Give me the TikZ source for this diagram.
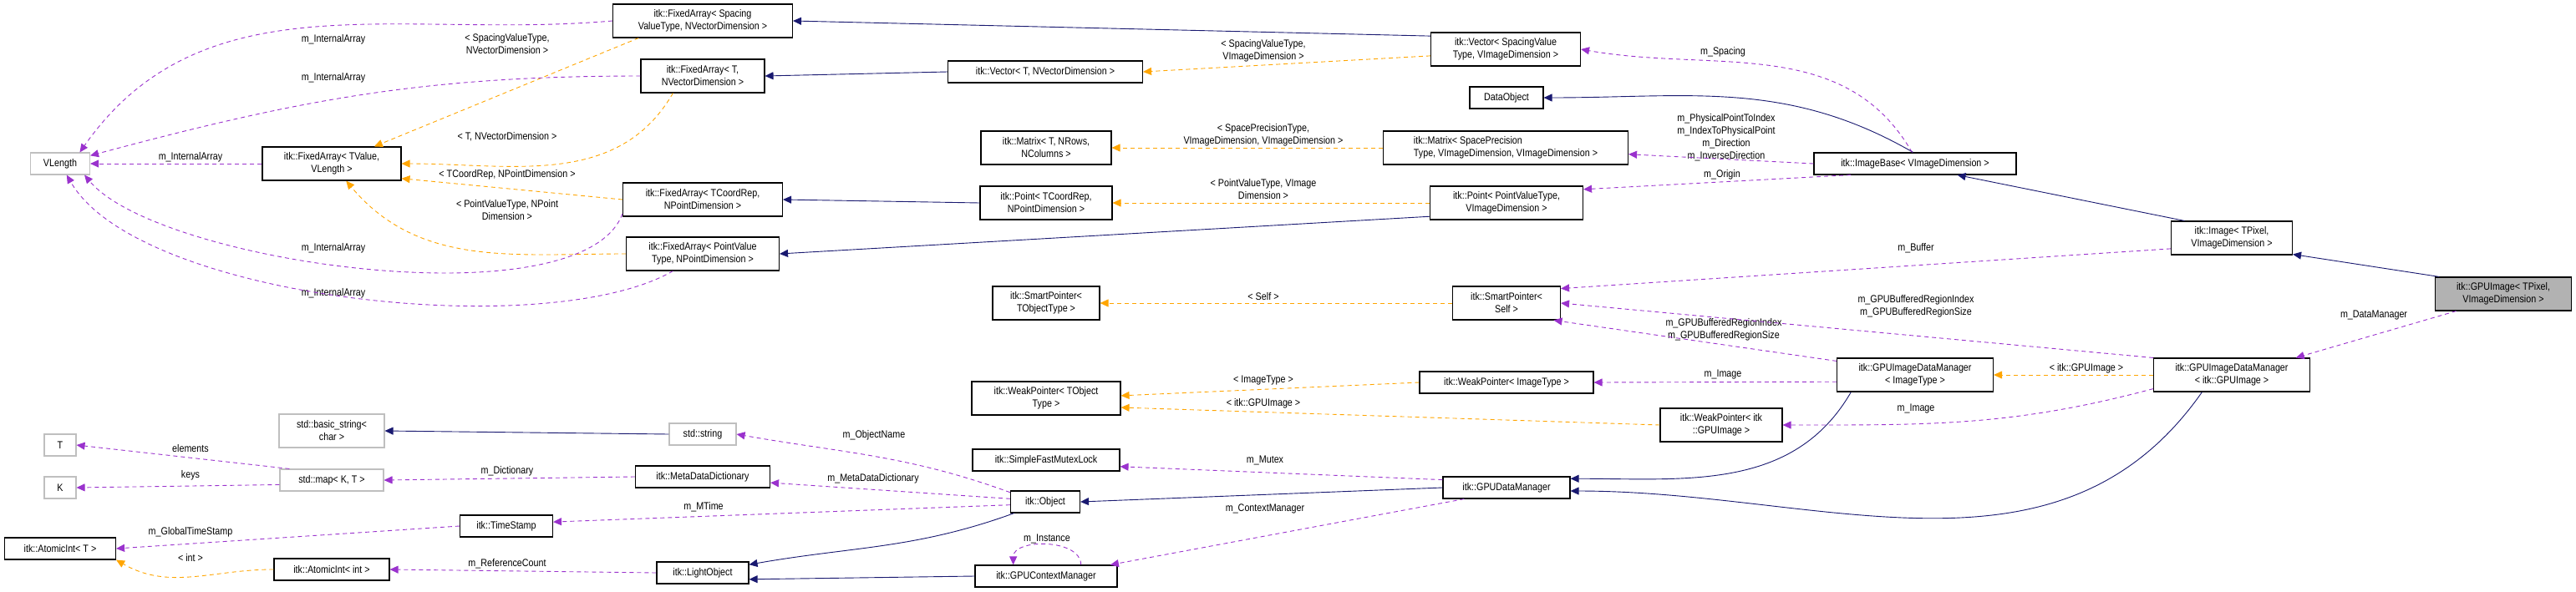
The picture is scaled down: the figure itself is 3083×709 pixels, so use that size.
\documentclass[tikz,border=0pt]{standalone}
\usepackage{fontspec}
\setmainfont[FakeStretch=0.86]{Liberation Sans}
\usetikzlibrary{arrows.meta}
\definecolor{inhcol}{HTML}{191970}
\definecolor{usecol}{HTML}{9A32CD}
\definecolor{tplcol}{HTML}{FFA500}
\begin{document}
\begin{tikzpicture}[x=1pt, y=-1pt, font=\fontsize{12.5}{15}\selectfont,
		cls/.style={rectangle, draw=black, line width=1.1pt, inner sep=1pt, align=center, minimum height=26},
		ext/.style={cls, draw=black!25},
		cur/.style={cls, fill=black!30},
		two/.style={minimum height=40},
		inh/.style={draw=inhcol, line width=0.9pt, -{Triangle[length=10pt, width=9pt]}},
		use/.style={draw=usecol, line width=0.9pt, dashed, dash pattern=on 5pt off 4pt, -{Triangle[length=10pt, width=9pt]}},
		tpl/.style={draw=tplcol, line width=0.9pt, dashed, dash pattern=on 5pt off 4pt, -{Triangle[length=10pt, width=9pt]}},
		lbl/.style={align=center, inner sep=0pt}]
		\useasboundingbox (0,0) rectangle (3083,709);
		\node[cur, two, minimum width=163] (1) at (2996,352) {itk::GPUImage\textless{} TPixel,\\ VImageDimension \textgreater{}};
		\node[cls, two, minimum width=145] (2) at (2671,285) {itk::Image\textless{} TPixel,\\ VImageDimension \textgreater{}};
		\node[cls, minimum width=242] (3) at (2292,196) {itk::ImageBase\textless{} VImageDimension \textgreater{}};
		\node[cls, minimum width=88] (4) at (1803,117) {DataObject};
		\node[cls, two, minimum width=179] (5) at (1802,59) {itk::Vector\textless{} SpacingValue\\Type, VImageDimension \textgreater{}};
		\node[cls, minimum width=233] (6) at (1251,86) {itk::Vector\textless{} T, NVectorDimension \textgreater{}};
		\node[cls, two, minimum width=215] (7) at (841,25) {itk::FixedArray\textless{} Spacing\\ValueType, NVectorDimension \textgreater{}};
		\node[cls, two, minimum width=148] (8) at (841,91) {itk::FixedArray\textless{} T,\\ NVectorDimension \textgreater{}};
		\node[cls, two, minimum width=166] (9) at (397,196) {itk::FixedArray\textless{} TValue,\\ VLength \textgreater{}};
		\node[ext, minimum width=71] (10) at (72,196) {VLength};
		\node[cls, two, minimum width=191] (11) at (841,239) {itk::FixedArray\textless{} TCoordRep,\\ NPointDimension \textgreater{}};
		\node[cls, two, minimum width=183] (12) at (841,304) {itk::FixedArray\textless{} PointValue\\Type, NPointDimension \textgreater{}};
		\node[cls, two, minimum width=293, align=left] (13) at (1802,177) {itk::Matrix\textless{} SpacePrecision\\Type, VImageDimension, VImageDimension \textgreater{}};
		\node[cls, two, minimum width=156] (14) at (1252,177) {itk::Matrix\textless{} T, NRows,\\ NColumns \textgreater{}};
		\node[cls, two, minimum width=183] (15) at (1803,243) {itk::Point\textless{} PointValueType,\\ VImageDimension \textgreater{}};
		\node[cls, two, minimum width=158] (16) at (1252,243) {itk::Point\textless{} TCoordRep,\\ NPointDimension \textgreater{}};
		\node[cls, two, minimum width=129] (17) at (1803,363) {itk::SmartPointer\textless{}\\ Self \textgreater{}};
		\node[cls, two, minimum width=128] (18) at (1252,363) {itk::SmartPointer\textless{}\\ TObjectType \textgreater{}};
		\node[cls, two, minimum width=187] (19) at (2671,449) {itk::GPUImageDataManager\\ \textless{} itk::GPUImage \textgreater{}};
		\node[cls, two, minimum width=187] (20) at (2292,449) {itk::GPUImageDataManager\\ \textless{} ImageType \textgreater{}};
		\node[cls, minimum width=208] (21) at (1803,458) {itk::WeakPointer\textless{} ImageType \textgreater{}};
		\node[cls, two, minimum width=178] (22) at (1252,477) {itk::WeakPointer\textless{} TObject\\Type \textgreater{}};
		\node[cls, two, minimum width=146] (23) at (2060,509) {itk::WeakPointer\textless{} itk\\::GPUImage \textgreater{}};
		\node[cls, minimum width=176] (24) at (1252,551) {itk::SimpleFastMutexLock};
		\node[cls, minimum width=152] (25) at (1803,584) {itk::GPUDataManager};
		\node[cls, minimum width=83] (26) at (1251,601) {itk::Object};
		\node[cls, minimum width=170] (27) at (1252,690) {itk::GPUContextManager};
		\node[cls, minimum width=110] (28) at (841,686) {itk::LightObject};
		\node[ext, minimum width=80] (29) at (841,520) {std::string};
		\node[ext, two, minimum width=126] (30) at (397,516) {std::basic\_string\textless{}\\ char \textgreater{}};
		\node[cls, minimum width=161] (31) at (841,571) {itk::MetaDataDictionary};
		\node[ext, minimum width=124] (32) at (397,575) {std::map\textless{} K, T \textgreater{}};
		\node[ext, minimum width=38] (33) at (72,533) {T};
		\node[ext, minimum width=38] (34) at (72,584) {K};
		\node[cls, minimum width=111] (35) at (606,630) {itk::TimeStamp};
		\node[cls, minimum width=133] (36) at (72,657) {itk::AtomicInt\textless{} T \textgreater{}};
		\node[cls, minimum width=138] (37) at (397,682) {itk::AtomicInt\textless{} int \textgreater{}};
		
		\node[lbl] (l1) at (399,47) {m\_InternalArray};
		\node[lbl] (l2) at (607,53) {\textless{} SpacingValueType,\\NVectorDimension \textgreater{}};
		\node[lbl] (l3) at (399,93) {m\_InternalArray};
		\node[lbl] (l4) at (607,164) {\textless{} T, NVectorDimension \textgreater{}};
		\node[lbl] (l5) at (228,188) {m\_InternalArray};
		\node[lbl] (l6) at (607,209) {\textless{} TCoordRep, NPointDimension \textgreater{}};
		\node[lbl] (l7) at (607,252) {\textless{} PointValueType, NPoint\\Dimension \textgreater{}};
		\node[lbl] (l8) at (399,297) {m\_InternalArray};
		\node[lbl] (l9) at (399,351) {m\_InternalArray};
		\node[lbl] (l10) at (228,537) {elements};
		\node[lbl] (l11) at (228,569) {keys};
		\node[lbl] (l12) at (607,564) {m\_Dictionary};
		\node[lbl] (l13) at (842,607) {m\_MTime};
		\node[lbl] (l14) at (228,637) {m\_GlobalTimeStamp};
		\node[lbl] (l15) at (228,668) {\textless{} int \textgreater{}};
		\node[lbl] (l16) at (607,675) {m\_ReferenceCount};
		\node[lbl] (l17) at (1512,61) {\textless{} SpacingValueType,\\VImageDimension \textgreater{}};
		\node[lbl] (l18) at (2062,62) {m\_Spacing};
		\node[lbl] (l19) at (1512,162) {\textless{} SpacePrecisionType,\\VImageDimension, VImageDimension \textgreater{}};
		\node[lbl] (l20) at (2066,165) {m\_PhysicalPointToIndex\\m\_IndexToPhysicalPoint\\m\_Direction\\m\_InverseDirection};
		\node[lbl] (l21) at (2061,209) {m\_Origin};
		\node[lbl] (l22) at (1512,227) {\textless{} PointValueType, VImage\\Dimension \textgreater{}};
		\node[lbl] (l23) at (2293,297) {m\_Buffer};
		\node[lbl] (l24) at (1512,355) {\textless{} Self \textgreater{}};
		\node[lbl] (l25) at (2293,367) {m\_GPUBufferedRegionIndex\\m\_GPUBufferedRegionSize};
		\node[lbl] (l26) at (2063,395) {m\_GPUBufferedRegionIndex\\m\_GPUBufferedRegionSize};
		\node[lbl] (l27) at (2841,377) {m\_DataManager};
		\node[lbl] (l28) at (2497,441) {\textless{} itk::GPUImage \textgreater{}};
		\node[lbl] (l29) at (2062,448) {m\_Image};
		\node[lbl] (l30) at (2293,489) {m\_Image};
		\node[lbl] (l31) at (1512,455) {\textless{} ImageType \textgreater{}};
		\node[lbl] (l32) at (1512,483) {\textless{} itk::GPUImage \textgreater{}};
		\node[lbl] (l33) at (1046,521) {m\_ObjectName};
		\node[lbl] (l34) at (1045,573) {m\_MetaDataDictionary};
		\node[lbl] (l35) at (1514,551) {m\_Mutex};
		\node[lbl] (l36) at (1514,609) {m\_ContextManager};
		\node[lbl] (l37) at (1253,645) {m\_Instance};
		
		\path (1.165) edge[inh] (2.-15);
		\path (2.160) edge[inh] (3.-15);
		\path (3.100) edge[inh, out=150, in=0] (4.east);
		\path (5.170) edge[inh] (7.east);
		\path (6.west) edge[inh] (8.east);
		\path (16.west) edge[inh] (11.east);
		\path (15.-170) edge[inh] (12.east);
		\path (20.-165) edge[inh, out=-120, in=0] (25.8);
		\path (19.-150) edge[inh, out=-125, in=0] (25.-3);
		\path (25.west) edge[inh] (26.east);
		\path (26.-160) edge[inh, out=200, in=10] (28.10);
		\path (27.west) edge[inh] (28.-8);
		\path (29.west) edge[inh] (30.east);
		
		\path (7.-165) edge[tpl] (9.22.6);
		\path (8.-150) edge[tpl, out=-120, in=0] (9.0);
		\path (11.west) edge[tpl] (9.-12);
		\path (12.west) edge[tpl, out=180, in=-50] (9.-50);
		\path (5.-175) edge[tpl] (6.east);
		\path (13.west) edge[tpl] (14.east);
		\path (15.west) edge[tpl] (16.east);
		\path (17.west) edge[tpl] (18.east);
		\path (21.west) edge[tpl] (22.2);
		\path (23.west) edge[tpl] (22.-7);
		\path (19.west) edge[tpl] (20.east);
		\path (37.west) edge[tpl, out=180, in=-30] (36.south east);
		
		\path (7.west) edge[use, out=185, in=55] (10.30);
		\path (8.west) edge[use, out=180, in=15] (10.15);
		\path (9.west) edge[use] (10.east);
		\path (11.-170) edge[use, out=-110, in=-50, looseness=0.55] (10.-25);
		\path (12.-150) edge[use, out=-150, in=-60, looseness=0.6] (10.-60);
		\path (3.105) edge[use, out=120, in=-10] (5.east);
		\path (3.west) edge[use] (13.-3);
		\path (3.-170) edge[use] (15.10);
		\path (2.190) edge[use] (17.15);
		\path (19.north west) edge[use] (17.0);
		\path (20.170) edge[use] (17.-20);
		\path (20.-175) edge[use] (21.east);
		\path (19.-170) edge[use, out=195, in=0] (23.east);
		\path (1.-160) edge[use] (19.15);
		\path (25.173) edge[use] (24.-5);
		\path (25.-165) edge[use] (27.10);
		\path (27.18) edge[use, out=90, in=90] (27.161);
		\path (26.165) edge[use, out=160, in=-10] (29.east);
		\path (26.175) edge[use] (31.-5);
		\path (26.-175) edge[use] (35.5);
		\path (28.west) edge[use] (37.east);
		\path (35.west) edge[use] (36.east);
		\path (31.west) edge[use] (32.east);
		\path (32.165) edge[use] (33.east);
		\path (32.-175) edge[use] (34.east);
		
	\end{tikzpicture}
\end{document}
